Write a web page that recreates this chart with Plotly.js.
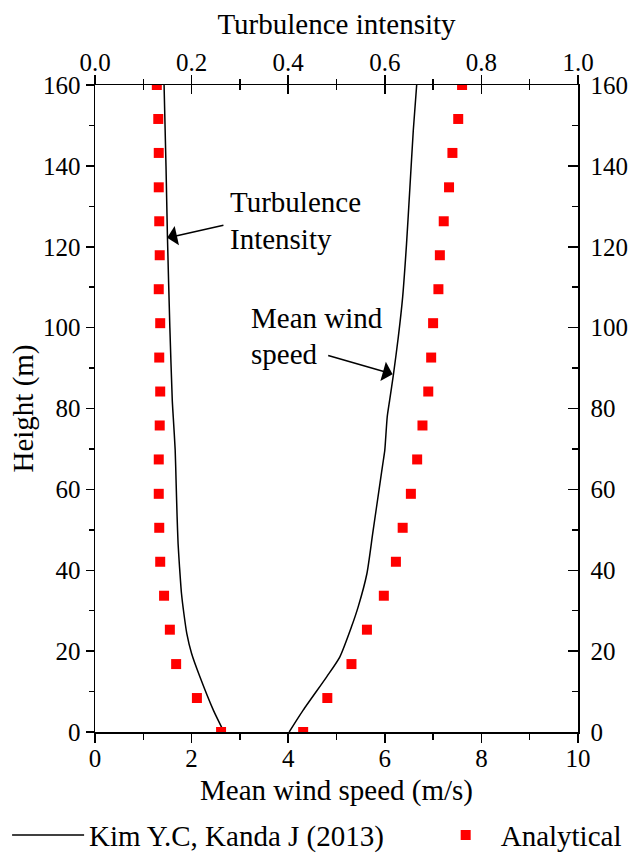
<!DOCTYPE html>
<html>
<head>
<meta charset="utf-8">
<script src="https://cdn.plot.ly/plotly-3.0.1.min.js"></script>
<style>html,body{margin:0;padding:0;background:#fff;}</style>
</head>
<body>
<div id="chart" style="width:633px;height:853px;"></div>
<script>
// Analytical (red squares)
var heights = [0, 8.4, 16.8, 25.3, 33.7, 42.1, 50.5, 58.9, 67.4, 75.8, 84.2, 92.6, 101.1, 109.5, 117.9, 126.3, 134.7, 143.2, 151.6, 160];
var tiAnalytical = [0.261, 0.211, 0.168, 0.155, 0.143, 0.135, 0.133, 0.132, 0.132, 0.134, 0.135, 0.133, 0.135, 0.132, 0.134, 0.133, 0.132, 0.132, 0.131, 0.128];
var windAnalytical = [4.31, 4.81, 5.31, 5.63, 5.98, 6.23, 6.37, 6.54, 6.67, 6.78, 6.90, 6.96, 7.00, 7.11, 7.14, 7.22, 7.33, 7.40, 7.52, 7.60];

// Kim Y.C, Kanda J (2013) (black lines)
var kimTiHeights = [0, 5.4, 13.7, 19.4, 24.4, 29.3, 34.3, 40.8, 46.6, 53.2, 61.5, 69.7, 77.9, 82, 100, 122.4, 140, 160];
var kimTi = [0.267, 0.245, 0.217, 0.200, 0.190, 0.184, 0.179, 0.175, 0.172, 0.170, 0.168, 0.166, 0.162, 0.160, 0.155, 0.150, 0.147, 0.143];
var kimWindHeights = [0, 5.4, 13.7, 18.6, 26, 31, 39.2, 49.1, 61.5, 67.2, 69.7, 77.9, 82, 88.5, 97.7, 107.6, 120.7, 134.7, 148.8, 160];
var kimWind = [4.02, 4.31, 4.80, 5.07, 5.31, 5.45, 5.63, 5.75, 5.90, 5.97, 6.00, 6.05, 6.10, 6.18, 6.28, 6.37, 6.45, 6.52, 6.59, 6.66];

var seriesNames = ["Kim Y.C, Kanda J (2013)", "Analytical"];
var bottomTitle = "Mean wind speed (m/s)";
var topTitle = "Turbulence intensity";
var leftTitle = "Height (m)";

var FONT = "Liberation Serif, Times New Roman, serif";
var RED = "#ff0000";
var TXT = 29;

var traces = [
  {x: kimWind, y: kimWindHeights, xaxis: "x", yaxis: "y", type: "scatter", mode: "lines",
   name: seriesNames[0], line: {color: "#000", width: 1.5, shape: "spline", smoothing: 0.6}, showlegend: true, legend: "legend"},
  {x: kimTi, y: kimTiHeights, xaxis: "x2", yaxis: "y", type: "scatter", mode: "lines",
   name: seriesNames[0], line: {color: "#000", width: 1.5, shape: "spline", smoothing: 0.6}, showlegend: false},
  {x: windAnalytical, y: heights, xaxis: "x", yaxis: "y", type: "scatter", mode: "markers",
   name: seriesNames[1], marker: {symbol: "square", size: 10, color: RED}, showlegend: true, legend: "legend2"},
  {x: tiAnalytical, y: heights, xaxis: "x2", yaxis: "y", type: "scatter", mode: "markers",
   name: seriesNames[1], marker: {symbol: "square", size: 10, color: RED}, showlegend: false},
  {x: [], y: [], xaxis: "x3", yaxis: "y2", type: "scatter", mode: "markers", showlegend: false, hoverinfo: "skip"}
];

var axisCommon = {showgrid: false, zeroline: false, showline: true, linecolor: "#000", linewidth: 1.5,
  tickcolor: "#000", tickwidth: 1.5, tickfont: {family: FONT, size: 25, color: "#000"}};

var legendCommon = {orientation: "h", xanchor: "left", y: -0.12, yanchor: "top",
  font: {family: FONT, size: TXT, color: "#000"}, bgcolor: "rgba(0,0,0,0)"};

var layout = {
  width: 633, height: 853,
  margin: {l: 95, r: 55, t: 85, b: 121, pad: 0, autoexpand: false},
  paper_bgcolor: "#fff", plot_bgcolor: "#fff",
  font: {family: FONT, size: TXT, color: "#000"},
  xaxis: Object.assign({}, axisCommon, {
    range: [0, 10], tick0: 0, dtick: 2, ticks: "outside", ticklen: 9, ticklabelstandoff: -6,
    minor: {dtick: 1, tick0: 0, ticks: "outside", ticklen: 6, tickwidth: 1.5, tickcolor: "#000"},
    title: {text: bottomTitle, font: {family: FONT, size: TXT, color: "#000"}, standoff: 9},
    automargin: false
  }),
  xaxis2: Object.assign({}, axisCommon, {
    overlaying: "x", side: "top", anchor: "y",
    range: [0, 1], tick0: 0, dtick: 0.2, tickformat: ".1f", ticks: "outside", ticklen: 9, ticklabelstandoff: -6,
    minor: {dtick: 0.1, tick0: 0, ticks: "outside", ticklen: 5, tickwidth: 1.5, tickcolor: "#000"},
    title: {text: topTitle, font: {family: FONT, size: TXT, color: "#000"}, standoff: 5},
    automargin: false
  }),
  xaxis3: Object.assign({}, axisCommon, {
    overlaying: "x", side: "top", anchor: "y2", showline: false,
    range: [0, 1], tick0: 0, dtick: 0.2, ticks: "inside", ticklen: 9, showticklabels: false,
    minor: {dtick: 0.1, tick0: 0, ticks: "inside", ticklen: 5, tickwidth: 1.5, tickcolor: "#000"},
    automargin: false
  }),
  yaxis: Object.assign({}, axisCommon, {
    range: [0, 160], tick0: 0, dtick: 20, ticks: "outside", ticklen: 8,
    minor: {dtick: 10, tick0: 0, ticks: "outside", ticklen: 5, tickwidth: 1.5, tickcolor: "#000"},
    title: {text: leftTitle, font: {family: FONT, size: TXT, color: "#000"}, standoff: 1},
    automargin: false
  }),
  yaxis2: Object.assign({}, axisCommon, {
    overlaying: "y", side: "right", anchor: "x",
    range: [0, 160], tick0: 0, dtick: 20, ticks: "inside", ticklen: 10, ticklabelstandoff: 6,
    minor: {dtick: 10, tick0: 0, ticks: "inside", ticklen: 6, tickwidth: 1.5, tickcolor: "#000"},
    automargin: false
  }),
  legend: Object.assign({}, legendCommon, {x: -0.182, itemwidth: 72}),
  legend2: Object.assign({}, legendCommon, {x: 0.695, itemwidth: 60}),
  showlegend: true,
  annotations: [
    {xref: "x", yref: "y", x: 2.76, y: 131.0, text: "Turbulence", showarrow: false, xanchor: "left", yanchor: "middle",
     font: {family: FONT, size: TXT, color: "#000"}},
    {xref: "x", yref: "y", x: 2.76, y: 121.8, text: "Intensity", showarrow: false, xanchor: "left", yanchor: "middle",
     font: {family: FONT, size: TXT, color: "#000"}},
    {xref: "x", yref: "y", x: 3.18, y: 102.5, text: "Mean wind", showarrow: false, xanchor: "left", yanchor: "middle",
     font: {family: FONT, size: TXT, color: "#000"}},
    {xref: "x", yref: "y", x: 3.18, y: 93.6, text: "speed", showarrow: false, xanchor: "left", yanchor: "middle",
     font: {family: FONT, size: TXT, color: "#000"}},
    {xref: "x", yref: "y", axref: "x", ayref: "y", x: 1.494, y: 122.2, ax: 2.69, ay: 125.4, text: "",
     showarrow: true, arrowhead: 1, arrowsize: 2.2, arrowwidth: 1.5, arrowcolor: "#000", standoff: 0},
    {xref: "x", yref: "y", axref: "x", ayref: "y", x: 6.162, y: 88.5, ax: 4.797, ay: 93.2, text: "",
     showarrow: true, arrowhead: 1, arrowsize: 2.2, arrowwidth: 1.5, arrowcolor: "#000", standoff: 0}
  ]
};

Plotly.newPlot("chart", traces, layout, {displayModeBar: false, staticPlot: true});
</script>
</body>
</html>
